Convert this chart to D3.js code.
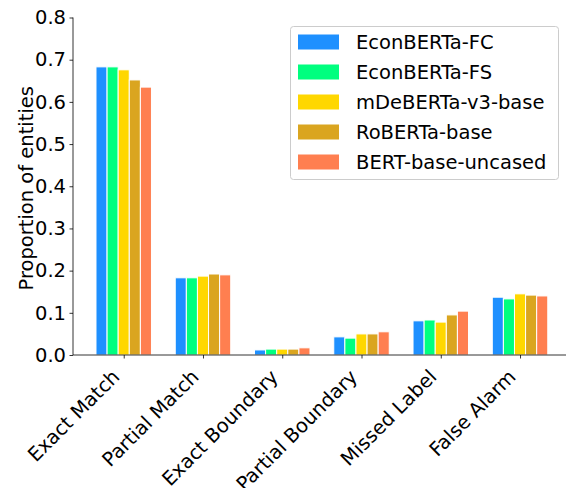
<!DOCTYPE html>
<html>
<head>
<meta charset="utf-8">
<script src="https://cdn.jsdelivr.net/npm/d3@7"></script>
<style>
  body { margin: 0; background: #fff; }
</style>
</head>
<body>
<div id="chart"></div>
<script>
const categories = ["Exact Match", "Partial Match", "Exact Boundary", "Partial Boundary", "Missed Label", "False Alarm"];
const models = ["EconBERTa-FC", "EconBERTa-FS", "mDeBERTa-v3-base", "RoBERTa-base", "BERT-base-uncased"];
const econFC = [0.683, 0.183, 0.012, 0.043, 0.081, 0.137];
const econFS = [0.683, 0.183, 0.014, 0.040, 0.083, 0.133];
const mdeberta = [0.676, 0.187, 0.014, 0.050, 0.078, 0.145];
const roberta = [0.652, 0.192, 0.014, 0.050, 0.095, 0.142];
const bert = [0.635, 0.190, 0.017, 0.055, 0.104, 0.140];
const yTicks = [0.0, 0.1, 0.2, 0.3, 0.4, 0.5, 0.6, 0.7, 0.8];
const colors = ["#1E90FF", "#00FF7F", "#FFD700", "#DAA520", "#FF7F50"];

const series = [econFC, econFS, mdeberta, roberta, bert];

const width = 568;
const height = 488;
const margin = { top: 17.5, right: 2, bottom: 133, left: 73 };
const fontSize = "19.5px";
const fontFamily = "DejaVu Sans, sans-serif";

const svg = d3
  .select("#chart")
  .append("svg")
  .attr("width", width)
  .attr("height", height)
  .style("font-family", fontFamily);

// continuous x in category units, like matplotlib
const xScale = d3
  .scaleLinear()
  .domain([-0.64, 5.58])
  .range([margin.left, width - margin.right]);

const yScale = d3
  .scaleLinear()
  .domain([0, 0.8])
  .range([height - margin.bottom, margin.top]);

const barW = 0.14;

// bars
series.forEach((vals, j) => {
  svg
    .append("g")
    .selectAll("rect")
    .data(vals)
    .join("rect")
    .attr("x", (d, i) => xScale(i + (j - 2) * barW - barW / 2))
    .attr("y", (d) => yScale(d))
    .attr("width", xScale(barW) - xScale(0))
    .attr("height", (d) => yScale(0) - yScale(d))
    .attr("fill", colors[j])
    .attr("stroke", "#fff")
    .attr("stroke-width", 1);
});

// y axis
const yAxis = d3.axisLeft(yScale).tickValues(yTicks).tickFormat(d3.format(".1f")).tickSize(3.5).tickPadding(3.5);
const yAxisGroup = svg
  .append("g")
  .attr("transform", `translate(${margin.left}, 0)`)
  .call(yAxis)
  .attr("font-family", fontFamily);
yAxisGroup.selectAll(".tick text").style("font-size", fontSize).attr("fill", "#000");
yAxisGroup.select(".domain").attr("stroke", "#000").attr("stroke-width", 0.8).attr("d", `M0,${yScale(0.8)}V${yScale(0)}`);
yAxisGroup.selectAll(".tick line").attr("stroke-width", 0.8);

// x axis
const xAxis = d3.axisBottom(xScale).tickValues(d3.range(categories.length)).tickFormat((i) => categories[i]).tickSize(3.5);
const xAxisGroup = svg
  .append("g")
  .attr("transform", `translate(0, ${yScale(0)})`)
  .call(xAxis)
  .attr("font-family", fontFamily);
xAxisGroup.select(".domain").attr("stroke", "#000").attr("stroke-width", 0.8).attr("d", `M${margin.left},0H${width - margin.right}`);
xAxisGroup.selectAll(".tick line").attr("stroke-width", 0.8);
xAxisGroup
  .selectAll(".tick text")
  .style("font-size", fontSize)
  .attr("fill", "#000")
  .attr("text-anchor", "end")
  .attr("y", 0)
  .attr("dy", 0)
  .attr("transform", "translate(-3.5, 23) rotate(-45)");

// y label
svg
  .append("text")
  .attr("transform", `translate(33, ${(yScale(0) + yScale(0.8)) / 2 + 2}) rotate(-90)`)
  .attr("text-anchor", "middle")
  .style("font-size", fontSize)
  .text("Proportion of entities");

// legend
const legend = svg.append("g").attr("transform", "translate(290, 26)");
legend
  .append("rect")
  .attr("x", 0.5)
  .attr("y", 0.5)
  .attr("width", 268)
  .attr("height", 153)
  .attr("rx", 3)
  .attr("fill", "#fff")
  .attr("fill-opacity", 0.8)
  .attr("stroke", "#ccc")
  .attr("stroke-width", 1);

models.forEach((m, j) => {
  const cy = 16 + j * 30;
  legend
    .append("rect")
    .attr("x", 8)
    .attr("y", cy - 7.5)
    .attr("width", 41)
    .attr("height", 15)
    .attr("fill", colors[j]);
  legend
    .append("text")
    .attr("x", 66)
    .attr("y", cy)
    .attr("dy", "0.35em")
    .style("font-size", fontSize)
    .text(m);
});
</script>
</body>
</html>
